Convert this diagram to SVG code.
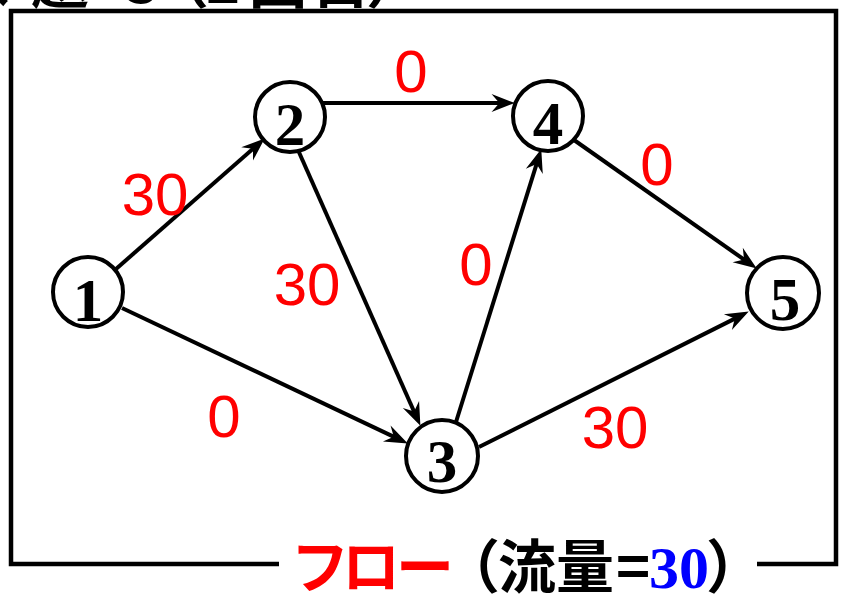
<svg xmlns="http://www.w3.org/2000/svg" width="844" height="596" viewBox="0 0 844 596">
<defs>
<style>
.frame{fill:none;stroke:#000;stroke-width:4.5}
.node circle{fill:#fff;stroke:#000;stroke-width:4}
.node text{font-family:"Liberation Serif","DejaVu Serif",serif;font-weight:bold;font-size:61px;text-anchor:middle;fill:#000}
.edge{fill:none;stroke:#000;stroke-width:4;marker-end:url(#arr)}
.lbl{font-family:"Liberation Sans",Arial,sans-serif;font-size:60px;fill:#ff0000;text-anchor:middle}
.jp{font-family:"Noto Sans CJK JP",sans-serif;font-weight:bold;font-size:58px;text-anchor:middle}
</style>
<marker id="arr" markerUnits="userSpaceOnUse" markerWidth="30" markerHeight="20" viewBox="-14 -9 24 18" refX="0" refY="0" orient="auto" overflow="visible">
<path d="M8,0 L-13,-8 L-6,0 L-13,8 Z" fill="#000"/>
</marker>
</defs>
<rect width="844" height="596" fill="#fff"/>
<text class="jp" y="3" fill="#000"><tspan x="-20">課</tspan><tspan x="60">題</tspan><tspan x="142">3</tspan><tspan x="180">（</tspan><tspan x="223">2</tspan><tspan x="278">回</tspan><tspan x="341">目</tspan><tspan x="395">）</tspan></text>
<path class="frame" d="M279,564 H11 V11 H836 V564 H757"/>
<g id="connectors">
<path class="edge" d="M116,269 L258,144.3"/>
<path class="edge" d="M122,308 L399.8,439.6"/>
<path class="edge" d="M323,103 L506,103"/>
<path class="edge" d="M298,150 L416.8,417.7"/>
<path class="edge" d="M456,422 L538.6,157.6"/>
<path class="edge" d="M479,447 L740.8,315.6"/>
<path class="edge" d="M574,140 L749.5,263.4"/>
</g>
<g id="labels">
<text class="lbl" x="155" y="215">30</text>
<text class="lbl" x="411" y="92">0</text>
<text class="lbl" x="657" y="185">0</text>
<text class="lbl" x="307" y="305">30</text>
<text class="lbl" x="476" y="285">0</text>
<text class="lbl" x="224" y="437">0</text>
<text class="lbl" x="615" y="448">30</text>
</g>
<g id="n1" class="node"><circle cx="88" cy="292" r="35"/><text x="88" y="321">1</text></g>
<g id="n2" class="node"><circle cx="290" cy="117" r="35"/><text x="290" y="145">2</text></g>
<g id="n3" class="node"><circle cx="442" cy="456" r="36"/><text x="442" y="482">3</text></g>
<g id="n4" class="node"><circle cx="548" cy="116" r="35"/><text x="548" y="144">4</text></g>
<g id="n5" class="node"><circle cx="783" cy="293" r="36"/><text x="785" y="320">5</text></g>
<g id="caption">
<text class="jp" y="588" fill="#ff0000"><tspan x="320">フ</tspan><tspan x="371">ロ</tspan><tspan x="425">ー</tspan></text>
<text class="jp" y="588" fill="#000"><tspan x="471">（</tspan><tspan x="527">流</tspan><tspan x="585">量</tspan><tspan x="633">=</tspan></text>
<text x="679" y="588" font-family="Liberation Serif,serif" font-weight="bold" font-size="60" fill="#0000ff" text-anchor="middle">30</text>
<text class="jp" x="735" y="588" fill="#000">）</text>
</g>
</svg>
